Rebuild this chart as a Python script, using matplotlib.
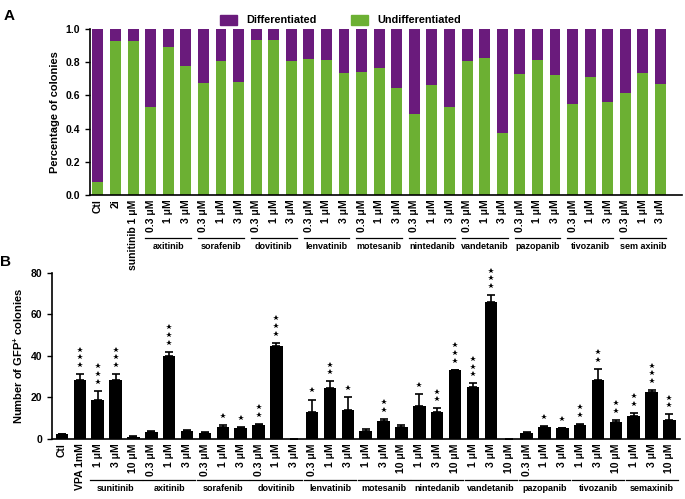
import numpy as np
import matplotlib
matplotlib.use("Agg")
import matplotlib.pyplot as plt
import matplotlib.transforms as mtransforms
from matplotlib import font_manager
from matplotlib.patches import Patch

plt.rcParams['font.family'] = ['Liberation Sans', 'DejaVu Sans']
plt.rcParams['font.weight'] = 'bold'
plt.rcParams['axes.labelweight'] = 'bold'
plt.rcParams['mathtext.fontset'] = 'custom'
plt.rcParams['mathtext.bf'] = 'Liberation Sans:bold'
plt.rcParams['mathtext.rm'] = 'Liberation Sans:bold'

# narrow face for the horizontal labels if it is there
try:
	font_manager.findfont(font_manager.FontProperties(family='Liberation Sans Narrow', weight='bold'),
	                      fallback_to_default=False)
	narrow, gsize, lsize = 'Liberation Sans Narrow', 7.5, 8.5
except ValueError:
	narrow, gsize, lsize = 'Liberation Sans', 6.5, 7.8

##########################################################################
# panel A data
a_labels = ["Ctl", "2i", "sunitinib 1 \u03bcM"] + ["0.3 \u03bcM", "1 \u03bcM", "3 \u03bcM"] * 10
a_groups = ["axitinib", "sorafenib", "dovitinib", "lenvatinib", "motesanib",
            "nintedanib", "vandetanib", "pazopanib", "tivozanib", "sem axinib"]
undiff = [0.08, 0.925, 0.93,
          0.53, 0.89, 0.78,
          0.675, 0.805, 0.68,
          0.935, 0.935, 0.81,
          0.82, 0.815, 0.735,
          0.74, 0.765, 0.645,
          0.485, 0.66, 0.53,
          0.805, 0.825, 0.375,
          0.73, 0.815, 0.725,
          0.55, 0.71, 0.56,
          0.615, 0.735, 0.67]

# panel B data
b_labels = ["Ctl", "VPA 1mM", "1 \u03bcM", "3 \u03bcM", "10 \u03bcM",
            "0.3 \u03bcM", "1 \u03bcM", "3 \u03bcM",
            "0.3 \u03bcM", "1 \u03bcM", "3 \u03bcM",
            "0.3 \u03bcM", "1 \u03bcM", "3 \u03bcM",
            "0.3 \u03bcM", "1 \u03bcM", "3 \u03bcM",
            "1 \u03bcM", "3 \u03bcM", "10 \u03bcM",
            "1 \u03bcM", "3 \u03bcM", "10 \u03bcM",
            "1 \u03bcM", "3 \u03bcM", "10 \u03bcM",
            "0.3 \u03bcM", "1 \u03bcM", "3 \u03bcM",
            "1 \u03bcM", "3 \u03bcM", "10 \u03bcM",
            "1 \u03bcM", "3 \u03bcM", "10 \u03bcM"]
b_groups = ["sunitinib", "axitinib", "sorafenib", "dovitinib", "lenvatinib",
            "motesanib", "nintedanib", "vandetanib", "pazopanib", "tivozanib", "semaxinib"]
colonies = [2.2, 28.6, 19.0, 28.6, 1.0,
            3.5, 39.8, 4.0,
            2.7, 5.8, 5.3,
            6.9, 44.6, 0.0,
            13.1, 24.6, 13.9,
            3.9, 8.8, 5.6,
            16.1, 13.1, 33.1,
            25.1, 65.8, 0.0,
            2.7, 5.6, 5.1,
            6.9, 28.6, 8.0,
            11.0, 22.7, 9.3]
sem = [0.3, 2.7, 4.2, 2.7, 0.3,
       0.3, 2.2, 0.3,
       0.7, 0.8, 0.3,
       0.3, 1.8, 0.0,
       5.9, 3.1, 6.4,
       0.8, 0.8, 1.3,
       5.6, 1.6, 0.3,
       1.7, 3.4, 0.0,
       0.8, 0.8, 0.3,
       0.3, 5.1, 1.1,
       1.6, 0.8, 2.5]
stars = [0, 3, 3, 3, 0,
         0, 3, 0,
         0, 1, 1,
         2, 3, 0,
         1, 2, 1,
         0, 2, 0,
         1, 2, 3,
         3, 3, 0,
         0, 1, 1,
         2, 2, 2,
         2, 3, 2]

purple = "#6a1b7c"
green = "#6cb033"

##########################################################################
fig = plt.figure(figsize=(6.85, 4.99), dpi=100)
axA = fig.add_axes([0.1314, 0.6092, 0.8636, 0.3327])
axB = fig.add_axes([0.0759, 0.1202, 0.9171, 0.3333])

##########################################################################
# panel A
xa = np.arange(len(undiff))
diff = 1 - np.array(undiff)
axA.bar(xa, undiff, width=0.62, color=green)
axA.bar(xa, diff, bottom=undiff, width=0.62, color=purple)
axA.set_xlim(-0.45, 33.2)
axA.set_ylim(0, 1.0)
axA.set_yticks(np.arange(0, 1.01, 0.2))
axA.set_yticklabels([f"{v:.1f}" for v in np.arange(0, 1.01, 0.2)], fontsize=7.5)
axA.set_xticks(xa)
axA.set_xticklabels(a_labels, rotation=90, fontsize=7.5)
axA.tick_params(axis='x', length=0, pad=3)
axA.tick_params(axis='y', length=3.5, width=1)
axA.set_ylabel("Percentage of colonies", fontsize=8, labelpad=4)
for s in ['top', 'right']:
	axA.spines[s].set_visible(False)
for s in ['left', 'bottom']:
	axA.spines[s].set_linewidth(1.2)

trA = mtransforms.blended_transform_factory(axA.transData, axA.transAxes)
for g, name in enumerate(a_groups):
	i0 = 3 + 3 * g
	axA.plot([i0 - 0.3, i0 + 2.3], [-0.259, -0.259], color='black', lw=0.9,
	         transform=trA, clip_on=False)
	axA.text(i0 + 1, -0.31, name, ha='center', va='center', fontsize=gsize,
	         family=narrow, transform=trA)

fig.legend(handles=[Patch(color=purple, label="Differentiated"),
                    Patch(color=green, label="Undifferentiated")],
           loc='center', bbox_to_anchor=(0.497, 0.96), ncol=2, frameon=False,
           prop={'family': narrow, 'weight': 'bold', 'size': lsize},
           handlelength=1.6, handleheight=1.1, columnspacing=3.2)

##########################################################################
# panel B
xb = np.arange(len(colonies))
axB.bar(xb, colonies, width=0.7, color='black')
axB.errorbar(xb, colonies, yerr=[np.zeros(len(sem)), sem], fmt='none',
             ecolor='black', elinewidth=1.2, capsize=2.8, capthick=1.2)
axB.set_xlim(-0.56, 34.6)
axB.set_ylim(0, 80)
axB.set_yticks([0, 20, 40, 60, 80])
axB.set_yticklabels(["0", "20", "40", "60", "80"], fontsize=7.5)
axB.set_xticks(xb)
axB.set_xticklabels(b_labels, rotation=90, fontsize=7.5)
axB.tick_params(axis='x', length=0, pad=3)
axB.tick_params(axis='y', length=3.5, width=1)
axB.set_ylabel(r"Number of GFP$^{\mathbf{+}}$ colonies", fontsize=8, labelpad=4)
for s in ['top', 'right']:
	axB.spines[s].set_visible(False)
for s in ['left', 'bottom']:
	axB.spines[s].set_linewidth(1.2)

for i in range(len(colonies)):
	top = colonies[i] + sem[i]
	for k in range(stars[i]):
		off = mtransforms.ScaledTranslation(0, (6.5 + 5.5 * k) / 72, fig.dpi_scale_trans)
		axB.plot([i], [top], marker='*', ms=4.2, color='black', mew=0,
		         transform=axB.transData + off, clip_on=False)

trB = mtransforms.blended_transform_factory(axB.transData, axB.transAxes)
for g, name in enumerate(b_groups):
	i0 = 2 + 3 * g
	axB.plot([i0 - 0.45, i0 + 2.45], [-0.247, -0.247], color='black', lw=0.9,
	         transform=trB, clip_on=False)
	axB.text(i0 + 1, -0.30, name, ha='center', va='center', fontsize=gsize,
	         family=narrow, transform=trB)

##########################################################################
fig.text(0.006, 0.968, "A", fontsize=11, fontweight='bold', va='center')
fig.text(0.0, 0.474, "B", fontsize=11, fontweight='bold', va='center')

fig.savefig("out.png", dpi=100)
plt.close()
